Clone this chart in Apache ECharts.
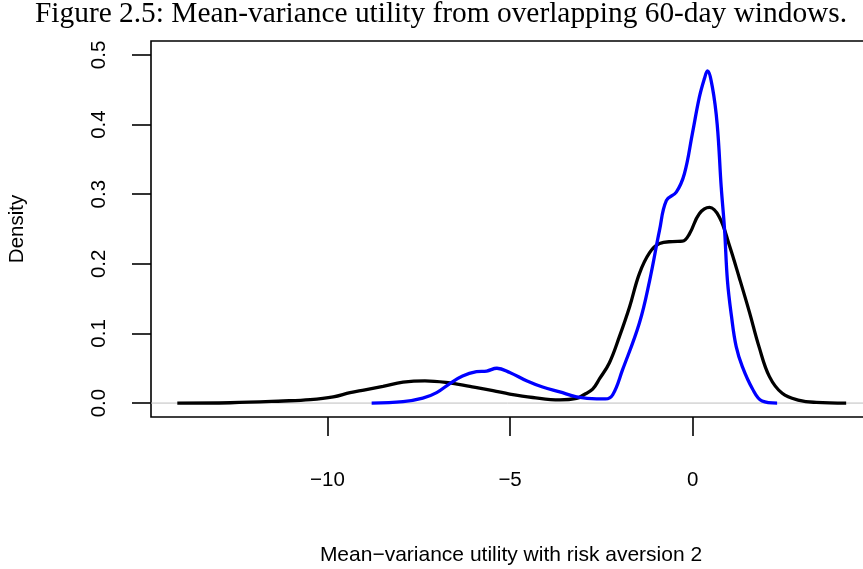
<!DOCTYPE html>
<html>
<head>
<meta charset="utf-8">
<script src="https://cdn.jsdelivr.net/npm/echarts@6/dist/echarts.min.js"></script>
<style>
  html, body { margin: 0; padding: 0; background: #fff; }
  #chart { width: 863px; height: 569px; }
</style>
</head>
<body>
<div id="chart"></div>
<script>
// Kernel density estimates of mean-variance utility (risk aversion 2)
const utilityA = [-14.11, -12.66, -11.21, -10.47, -9.84, -9.38, -8.97, -8.48, -7.93, -7.33,
  -6.65, -6.10, -5.47, -5.01, -4.38, -3.64, -3.18, -2.98, -2.74, -2.55, -2.28, -2.01, -1.73,
  -1.46, -1.18, -0.91, -0.55, -0.28, -0.09, 0.18, 0.46, 0.73, 1.00, 1.28, 1.55, 1.82, 2.10,
  2.45, 2.92, 3.38, 4.20];
const densityA = [0.000, 0.0005, 0.003, 0.005, 0.009, 0.015, 0.019, 0.024, 0.030, 0.032,
  0.029, 0.024, 0.018, 0.013, 0.008, 0.0045, 0.0067, 0.012, 0.020, 0.035, 0.058, 0.095, 0.138,
  0.186, 0.216, 0.229, 0.232, 0.2325, 0.243, 0.272, 0.281, 0.267, 0.227, 0.179, 0.131, 0.080, 0.038,
  0.014, 0.004, 0.001, 0.000];

const utilityB = [-8.79, -7.93, -7.39, -7.01, -6.65, -6.30, -5.92, -5.64, -5.36, -5.01,
  -4.55, -4.11, -3.64, -3.18, -2.63, -2.39, -2.19, -1.92, -1.46, -1.18, -0.91, -0.72,
  -0.45, -0.23, -0.01, 0.18, 0.32, 0.40, 0.54, 0.67, 0.78, 0.87, 0.95, 1.06, 1.19, 1.36,
  1.63, 1.90, 2.31];
const densityB = [0.000, 0.002, 0.007, 0.015, 0.028, 0.039, 0.045, 0.046, 0.050, 0.044,
  0.032, 0.023, 0.016, 0.009, 0.006, 0.006, 0.012, 0.048, 0.115, 0.176, 0.248, 0.291,
  0.303, 0.329, 0.387, 0.439, 0.466, 0.477, 0.453, 0.400, 0.310, 0.250, 0.176, 0.125, 0.081, 0.052,
  0.021, 0.003, 0.000];

const xTicks = [-10, -5, 0];
const yTicks = [0, 0.1, 0.2, 0.3, 0.4, 0.5];
const xRange = [-14.83, 4.88];
const yRange = [-0.02, 0.52];

const titleText = 'Figure 2.5: Mean-variance utility from overlapping 60-day windows.';
const xName = 'Mean\u2212variance utility with risk aversion 2';
const yName = 'Density';

const pairs = (xs, ys) => xs.map((x, i) => [x, ys[i]]);
const sans = 'Liberation Sans, Arial, Helvetica, sans-serif';

const chart = echarts.init(document.getElementById('chart'), null, { renderer: 'canvas' });
chart.setOption({
  animation: false,
  backgroundColor: '#fff',
  title: {
    text: titleText,
    left: 35,
    top: 0,
    padding: 0,
    textStyle: { fontFamily: 'Liberation Serif, Times New Roman, serif', fontSize: 29.4, fontWeight: 'normal', color: '#000' }
  },
  grid: {
    left: 151, top: 41, width: 720, height: 376,
    outerBoundsMode: 'none',
    containLabel: false,
    show: true, borderColor: '#000', borderWidth: 1.6, backgroundColor: 'transparent'
  },
  xAxis: {
    type: 'value',
    min: xRange[0], max: xRange[1],
    splitLine: { show: false },
    axisLine: { show: false, onZero: false },
    axisTick: { show: true, inside: false, length: 19, customValues: xTicks, lineStyle: { color: '#000', width: 1.6 } },
    axisLabel: {
      customValues: xTicks, margin: 53, fontSize: 20.5, fontFamily: sans, color: '#000',
      formatter: v => (v < 0 ? '\u2212' + Math.abs(v) : String(v))
    },
    name: xName,
    nameLocation: 'middle',
    nameGap: 128,
    nameTextStyle: { fontSize: 21, fontFamily: sans, color: '#000' }
  },
  yAxis: {
    type: 'value',
    min: yRange[0], max: yRange[1],
    splitLine: { show: false },
    axisLine: { show: false, onZero: false },
    axisTick: { show: true, inside: false, length: 19, customValues: yTicks, lineStyle: { color: '#000', width: 1.6 } },
    axisLabel: {
      customValues: yTicks, rotate: 90, margin: 41, fontSize: 20.5, fontFamily: sans, color: '#000',
      formatter: v => v.toFixed(1)
    },
    name: yName,
    nameLocation: 'middle',
    nameRotate: 90,
    nameGap: 123,
    nameTextStyle: { fontSize: 20.5, fontFamily: sans, color: '#000' }
  },
  series: [
    {
      name: 'zero',
      type: 'line',
      data: [[xRange[0], 0], [xRange[1], 0]],
      showSymbol: false,
      silent: true,
      z: 1,
      lineStyle: { color: '#bebebe', width: 1 }
    },
    {
      name: 'A',
      type: 'line',
      data: pairs(utilityA, densityA),
      showSymbol: false,
      smooth: 0.4,
      z: 3,
      lineStyle: { color: '#000', width: 3.3 }
    },
    {
      name: 'B',
      type: 'line',
      data: pairs(utilityB, densityB),
      showSymbol: false,
      smooth: 0.4,
      z: 4,
      lineStyle: { color: '#0000ff', width: 3.3 }
    }
  ]
});
</script>
</body>
</html>
